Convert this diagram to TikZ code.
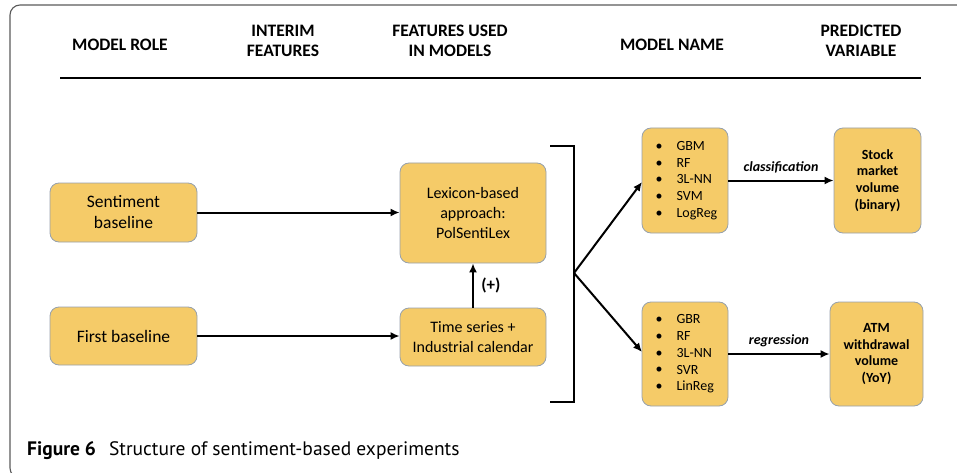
\documentclass[tikz,border=0pt]{standalone}
\usepackage{fontspec}
\setmainfont{Carlito}
\newfontfamily\capfont{PT Sans}
\usetikzlibrary{arrows.meta}
\definecolor{boxfill}{RGB}{245,203,104}
\definecolor{boxline}{RGB}{150,160,172}
\definecolor{framegray}{RGB}{90,90,90}
\tikzset{
  x=1pt,y=-1pt,
  box/.style={draw=boxline, line width=0.8pt, fill=boxfill, rounded corners=9pt, align=center, inner sep=0pt, font=\fontsize{16}{20}\selectfont},
  hdr/.style={align=center, font=\fontsize{17.5}{19.5}\selectfont\bfseries},
  arr/.style={line width=2pt, -{Latex[length=9pt,width=8pt]}},
  lbl/.style={font=\fontsize{14}{17}\selectfont\bfseries\itshape},
  lst/.style={align=left, font=\fontsize{14}{16.7}\selectfont},
}
\begin{document}
\begin{tikzpicture}
\useasboundingbox (0,0) rectangle (957,473);
\begin{scope}
\clip (0,0) rectangle (957,473);
\draw[framegray, line width=1.1pt, rounded corners=10pt] (10,5) rectangle (1000,478);
\end{scope}
% headers
\node[hdr] (h1) at (120,45) {MODEL ROLE};
\node[hdr] (h2) at (283,41) {INTERIM\\FEATURES};
\node[hdr] (h3) at (450,41) {FEATURES USED\\IN MODELS};
\node[hdr] (h4) at (672,45) {MODEL NAME};
\node[hdr] (h5) at (861,41) {PREDICTED\\VARIABLE};
\coordinate (hl) at (60,78);
\coordinate (hr) at (921,78);
\draw[line width=2.6pt] (hl) -- (hr);
% boxes
\node[box, minimum width=147pt, minimum height=59pt, font=\fontsize{17.5}{21}\selectfont] (sent) at (123.5,212.5) {Sentiment\\baseline};
\node[box, minimum width=147pt, minimum height=58pt, font=\fontsize{17.5}{21}\selectfont] (first) at (123.5,336) {First baseline};
\node[box, minimum width=146pt, minimum height=100pt] (lex) at (473,213) {Lexicon-based\\approach:\\PolSentiLex};
\node[box, minimum width=146pt, minimum height=58pt] (ts) at (473,337) {Time series +\\Industrial calendar};
\node[box, minimum width=86pt, minimum height=105pt] (m1) at (685,180.5) {};
\node[box, minimum width=86pt, minimum height=104pt] (m2) at (685,354) {};
\node[box, minimum width=87pt, minimum height=105pt, font=\fontsize{14}{16.7}\selectfont\bfseries] (p1) at (877.5,180.5) {Stock\\market\\volume\\(binary)};
\node[box, minimum width=93pt, minimum height=104pt, font=\fontsize{14}{16.7}\selectfont\bfseries] (p2) at (876.5,354) {ATM\\withdrawal\\volume\\(YoY)};
% lists
\node[lst, anchor=west] (l1b) at (652,180.5) {\textbullet\\\textbullet\\\textbullet\\\textbullet\\\textbullet};
\node[lst, anchor=west] (l1) at (673,180.5) {GBM\\RF\\3L-NN\\SVM\\LogReg};
\node[lst, anchor=west] (l2b) at (652,354) {\textbullet\\\textbullet\\\textbullet\\\textbullet\\\textbullet};
\node[lst, anchor=west] (l2) at (673,354) {GBR\\RF\\3L-NN\\SVR\\LinReg};
% arrows
\draw[arr] (sent.east) -- (sent.east -| lex.west);
\draw[arr] (first.east) -- (first.east -| ts.west);
\draw[arr] (ts.north) -- node[right=4pt, font=\fontsize{17}{19}\selectfont\bfseries] (plus) {(+)} (lex.south);
% bracket
\coordinate (b1) at (550,146);
\coordinate (b2) at (574,146);
\coordinate (b3) at (574,402);
\coordinate (b4) at (550,402);
\coordinate (bm) at (574,273);
\draw[line width=2pt] (b1) -- (b2) -- (b3) -- (b4);
\coordinate (t1) at (642,182);
\coordinate (t2) at (642,352);
\draw[arr] (bm) -- (t1);
\draw[arr] (bm) -- (t2);
\draw[arr] (m1.east) -- node[above=3pt, lbl] (cl) {classification} (m1.east -| p1.west);
\draw[arr] (m2.east) -- node[above=3pt, lbl] (rg) {regression} (m2.east -| p2.west);
% caption
\node[anchor=base west, font=\capfont\fontsize{19.5}{22}\selectfont, inner sep=0pt] (cap) at (27,455) {\textbf{Figure 6}\hspace{13pt}Structure of sentiment-based experiments};
\end{tikzpicture}
\end{document}
